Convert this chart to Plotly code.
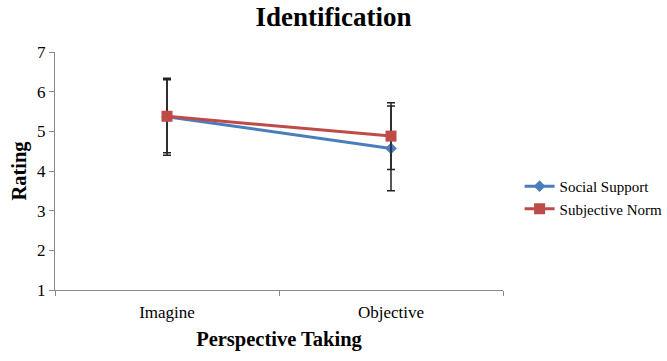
import plotly.graph_objects as go

categories = ["Imagine", "Objective"]
social_support = [5.37, 4.57]
social_support_err = [0.97, 1.07]
subjective_norm = [5.38, 4.88]
subjective_norm_err = [0.92, 0.84]
y_ticks = [1, 2, 3, 4, 5, 6, 7]

FONT = "Liberation Serif, Times New Roman, serif"

fig = go.Figure()
fig.add_trace(go.Scatter(
    x=categories, y=social_support, name="Social Support",
    mode="lines+markers",
    line=dict(color="#4A7EBB", width=3),
    marker=dict(symbol="diamond", size=9, color="#4A7EBB"),
    error_y=dict(type="data", array=social_support_err, visible=True,
                 color="#222222", thickness=1.5, width=4),
))
fig.add_trace(go.Scatter(
    x=categories, y=subjective_norm, name="Subjective Norm",
    mode="lines+markers",
    line=dict(color="#BE4B48", width=3),
    marker=dict(symbol="square", size=11, color="#BE4B48"),
    error_y=dict(type="data", array=subjective_norm_err, visible=True,
                 color="#222222", thickness=1.5, width=4),
))

fig.update_layout(
    width=667, height=361,
    margin=dict(l=55, r=164, t=52, b=71),
    paper_bgcolor="white", plot_bgcolor="white",
    font=dict(family=FONT, size=15, color="black"),
    title=dict(text="<b>Identification</b>", x=0.5, xanchor="center",
               y=0.955, yanchor="middle", font=dict(size=27, family=FONT)),
    showlegend=True,
    legend=dict(xref="container", yref="container",
                x=0.779, xanchor="left", y=0.453, yanchor="middle",
                font=dict(size=15, family=FONT), tracegroupgap=6,
                bgcolor="rgba(0,0,0,0)"),
    xaxis=dict(
        type="category", range=[-0.5, 1.5], tickson="boundaries",
        ticks="outside", ticklen=5, tickcolor="#898989",
        showline=True, linecolor="#898989", linewidth=1,
        showgrid=False, zeroline=False, ticklabelstandoff=7,
        tickfont=dict(size=17, family=FONT),
        title=dict(text="<b>Perspective Taking</b>", standoff=10,
                   font=dict(size=20.5, family=FONT)),
    ),
    yaxis=dict(
        range=[1, 7], tickvals=y_ticks, ticks="outside", ticklen=5,
        tickcolor="#898989", showline=True, linecolor="#898989", linewidth=1,
        showgrid=False, zeroline=False,
        tickfont=dict(size=17, family=FONT),
        title=dict(text="<b>Rating</b>", standoff=4,
                   font=dict(size=20.5, family=FONT)),
    ),
)

fig.write_html("out.html")
